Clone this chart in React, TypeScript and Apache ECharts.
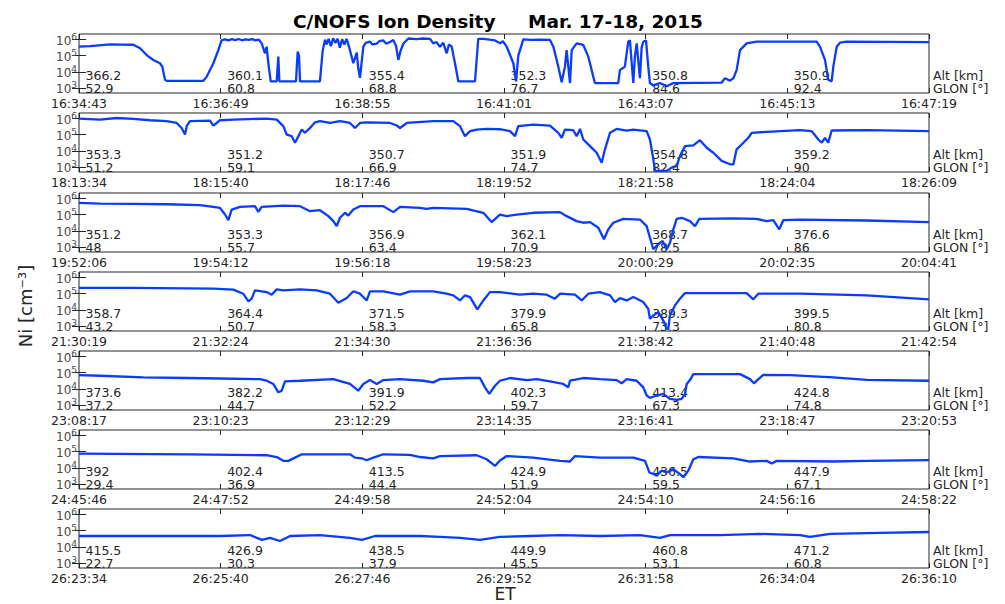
import React, { useEffect, useRef } from 'react';
import * as echarts from 'echarts';

// ---- data (x: seconds since panel start, y: log10 Ni [cm^-3]) ----
const TICK_STEP = 126;
const SPAN = 756;

const times1 = ['16:34:43', '16:36:49', '16:38:55', '16:41:01', '16:43:07', '16:45:13', '16:47:19'];
const times2 = ['18:13:34', '18:15:40', '18:17:46', '18:19:52', '18:21:58', '18:24:04', '18:26:09'];
const times3 = ['19:52:06', '19:54:12', '19:56:18', '19:58:23', '20:00:29', '20:02:35', '20:04:41'];
const times4 = ['21:30:19', '21:32:24', '21:34:30', '21:36:36', '21:38:42', '21:40:48', '21:42:54'];
const times5 = ['23:08:17', '23:10:23', '23:12:29', '23:14:35', '23:16:41', '23:18:47', '23:20:53'];
const times6 = ['24:45:46', '24:47:52', '24:49:58', '24:52:04', '24:54:10', '24:56:16', '24:58:22'];
const times7 = ['26:23:34', '26:25:40', '26:27:46', '26:29:52', '26:31:58', '26:34:04', '26:36:10'];

const alt1 = [366.2, 360.1, 355.4, 352.3, 350.8, 350.9];
const alt2 = [353.3, 351.2, 350.7, 351.9, 354.8, 359.2];
const alt3 = [351.2, 353.3, 356.9, 362.1, 368.7, 376.6];
const alt4 = [358.7, 364.4, 371.5, 379.9, 389.3, 399.5];
const alt5 = [373.6, 382.2, 391.9, 402.3, 413.4, 424.8];
const alt6 = [392, 402.4, 413.5, 424.9, 436.5, 447.9];
const alt7 = [415.5, 426.9, 438.5, 449.9, 460.8, 471.2];

const glon1 = [52.9, 60.8, 68.8, 76.7, 84.6, 92.4];
const glon2 = [51.2, 59.1, 66.9, 74.7, 82.4, 90];
const glon3 = [48, 55.7, 63.4, 70.9, 78.5, 86];
const glon4 = [43.2, 50.7, 58.3, 65.8, 73.3, 80.8];
const glon5 = [37.2, 44.7, 52.2, 59.7, 67.3, 74.8];
const glon6 = [29.4, 36.9, 44.4, 51.9, 59.5, 67.1];
const glon7 = [22.7, 30.3, 37.9, 45.5, 53.1, 60.8];

const ni1 = [[0,5.56],[10,5.6],[20,5.66],[27.6,5.70],[38,5.69],[48.3,5.68],[54.3,5.46],[60.2,5.04],[66.1,4.73],[72,4.53],[74.1,4.32],[76.5,3.5],[78,3.44],[110.6,3.44],[113.6,3.70],[119.5,4.53],[123.9,5.35],[126.9,5.97],[130,6.02],[133,5.95],[136,6.03],[139,5.97],[142,6.04],[145,5.96],[148,6.02],[151,5.98],[154,6.03],[157,5.95],[160,6.0],[162.5,5.77],[165.4,5.15],[166.9,5.56],[168.4,4.53],[170.5,3.4],[175.8,3.4],[177.3,4.94],[178.2,3.4],[193,3.4],[194.5,5.25],[195.7,5.0],[196.6,3.4],[214.3,3.4],[216.7,5.3],[218.8,6.0],[220,5.7],[222,6.05],[224,5.6],[226,6.08],[228,5.8],[230,6.05],[232,5.5],[234,6.02],[236,5.7],[238,6.05],[240,5.6],[244,4.53],[247,5.2],[248.4,4.2],[249.9,3.62],[251.4,4.6],[252.9,5.56],[255,5.8],[258.8,5.87],[261,5.7],[264.8,5.75],[267,5.9],[270.7,5.95],[273,5.75],[276.6,5.85],[279.6,5.97],[282,5.6],[284,4.74],[286,5.3],[288.5,5.76],[292.9,6.07],[300,6.03],[306,6.07],[312.2,6.05],[315.1,5.77],[318,5.85],[321,5.55],[324,5.8],[327,5.15],[329,5.7],[331.5,5.56],[334.4,4.53],[337.4,3.4],[352.2,3.4],[355.1,6.05],[360,6.05],[365,6.0],[370,5.95],[374.4,5.77],[377,5.9],[380.4,5.56],[386.3,4.53],[388.7,3.4],[390.7,5.0],[395.2,6.02],[402,5.98],[410,6.0],[418.9,5.98],[421.9,5.56],[426.3,4.32],[429.3,3.35],[432.2,4.32],[433.7,5.35],[436.7,3.3],[438.2,5.35],[442.6,5.77],[448.5,5.67],[453,4.94],[457.4,3.7],[458.9,3.3],[479.6,3.3],[481.1,4.1],[485.5,4.32],[488.5,5.87],[490,5.95],[493,3.3],[494.5,5.0],[496,5.77],[498.9,3.6],[500.4,5.5],[501.9,5.87],[504.3,5.95],[506.3,4.32],[507.8,3.3],[510.8,3.15],[516.7,3.3],[522.7,3.1],[528.6,3.3],[571.6,3.33],[574.5,3.6],[579,3.45],[582,3.6],[584.9,4.1],[587.9,5.35],[593.8,5.77],[602.7,5.87],[656.1,5.87],[659,5.56],[663.5,4.74],[666.4,3.5],[669.4,3.4],[670.9,4.32],[673.9,5.56],[676.8,5.81],[682.8,5.87],[756,5.84]];

const ni2 = [[0,6.0],[18.7,5.94],[33.5,6.04],[48.3,5.98],[63.1,5.9],[78,5.84],[86.9,5.73],[91.3,5.42],[94.3,5.01],[95.8,5.53],[98.7,5.84],[116.5,5.88],[119.5,5.57],[122.5,5.73],[125.4,5.9],[137.2,5.94],[166.9,6.0],[175.8,5.94],[181.7,5.53],[184.7,5.01],[189.2,4.91],[192.1,4.5],[195.1,4.91],[198.1,5.32],[201,5.12],[205.5,5.42],[209.9,5.77],[214.3,5.84],[223.2,5.73],[232.1,5.84],[241,5.73],[245.5,5.42],[249.9,5.73],[255.9,5.77],[276.6,5.73],[282.6,5.57],[285.5,5.42],[291.5,5.73],[315.1,5.84],[332.9,5.84],[338.9,5.53],[343.3,4.91],[347.8,5.22],[353.7,5.32],[362.6,5.36],[374.4,5.34],[383.3,5.22],[387.8,4.91],[390.7,5.53],[404,5.63],[418.9,5.57],[426.3,5.12],[429.3,4.81],[432.2,5.32],[439.6,5.28],[442.6,4.91],[445.6,5.36],[448.5,4.7],[454.5,4.29],[460.4,3.88],[464.9,3.26],[467.8,4.09],[472.3,5.12],[478.2,5.36],[487.1,5.26],[493,5.32],[504.9,5.22],[507.8,4.7],[510.8,3.47],[512.3,2.75],[522.7,2.75],[527.1,2.95],[531.6,3.06],[534.5,3.67],[539,4.29],[546.4,4.33],[552.3,4.66],[558.3,4.19],[564.2,3.88],[571.6,3.37],[579,3.16],[582,3.16],[584.9,4.09],[590.9,4.5],[595.3,4.81],[598.3,5.12],[611.6,5.18],[641.3,5.28],[651.7,5.22],[657.6,4.7],[660.6,4.5],[663.5,4.81],[666.4,4.5],[669.4,5.26],[700.6,5.28],[756,5.22]];

const ni3 = [[0,5.73],[18.7,5.69],[48.3,5.67],[78,5.65],[107.6,5.59],[119.5,5.49],[125.4,5.42],[129.9,5.01],[132.8,4.66],[135.8,5.32],[143.2,5.49],[156.5,5.53],[159.5,5.18],[162.5,5.49],[181.7,5.57],[196.6,5.53],[205.5,5.22],[214.3,5.28],[221.8,4.91],[226.2,4.6],[229.2,4.29],[232.1,4.81],[236.6,5.12],[239.5,4.95],[244,5.32],[249.9,5.53],[270.7,5.53],[279.6,5.16],[285.5,5.49],[303.3,5.42],[309.2,5.36],[315.1,5.42],[344.8,5.36],[359.6,5.12],[367,4.54],[374.4,5.01],[380.4,4.91],[389.3,5.01],[404,5.12],[427.8,5.16],[433.7,4.91],[442.6,4.6],[448.5,4.5],[454.5,4.54],[461.9,4.19],[466.9,3.47],[470.8,4.09],[475.2,4.5],[484.1,4.74],[498.9,4.7],[504.9,4.29],[507.8,3.57],[510.8,2.85],[515.2,3.16],[519.1,3.37],[522.7,2.85],[525.6,3.26],[528.6,4.09],[531.6,4.74],[536,4.81],[543.4,4.6],[547.9,4.29],[551.7,4.74],[582,4.77],[602.7,4.74],[611.6,4.6],[617.5,4.66],[622.8,4.09],[626.4,4.66],[641.3,4.7],[700.6,4.64],[756,4.54]];

const ni4 = [[0,5.36],[48.3,5.36],[119.5,5.31],[137.2,5.25],[146.1,5.0],[150.6,4.52],[153.6,4.69],[156.5,5.21],[166.9,5.1],[171.4,4.94],[175.8,5.27],[181.7,5.21],[196.6,5.27],[211.4,5.21],[223.2,5.0],[230.6,4.44],[238.1,4.73],[244,5.15],[249.9,5.0],[255.9,4.58],[258.8,5.15],[270.7,5.15],[285.5,4.94],[294.4,5.15],[315.1,5.15],[327,5.0],[332.9,4.9],[338.9,4.58],[343.3,4.9],[347.8,4.79],[354.3,4.02],[359.6,4.58],[365.5,5.1],[374.4,5.1],[392.2,4.94],[404,5.0],[415.9,4.94],[423.3,4.69],[427.8,5.0],[441.1,4.94],[447.1,4.58],[453,5.0],[463.4,5.1],[472.3,4.9],[476.7,4.48],[481.1,4.73],[487.1,4.58],[493,4.79],[501.9,4.48],[506.3,4.06],[507.8,3.44],[510.8,3.65],[515.2,3.85],[519.7,3.33],[522.7,2.81],[524.1,2.81],[525.6,3.65],[530.1,4.27],[534.5,4.69],[539,5.04],[593.8,5.04],[599.7,4.65],[604.2,5.0],[641.3,5.0],[700.6,4.9],[756,4.65]];

const ni5 = [[0,4.85],[18.7,4.81],[57.2,4.71],[95.8,4.67],[125.4,4.64],[161,4.6],[166.9,4.5],[172.8,4.3],[177.3,3.78],[180.3,3.88],[183.2,4.46],[196.6,4.5],[226.2,4.6],[241,4.3],[248.4,3.88],[252.9,4.3],[258.8,4.54],[264.8,4.3],[270.7,4.54],[285.5,4.6],[306.2,4.5],[315.1,4.4],[321.1,4.6],[344.8,4.67],[356.6,4.67],[361.1,4.09],[364.9,3.68],[370,4.19],[374.4,4.5],[383.3,4.67],[398.2,4.54],[407.1,4.6],[418.9,4.46],[430.7,4.3],[435.2,4.09],[436.7,4.5],[448.5,4.67],[463.4,4.6],[478.2,4.54],[482.6,4.34],[487.1,4.6],[496,4.5],[501.9,4.09],[504.9,3.58],[507.8,3.43],[513.8,3.58],[519.7,3.68],[525.6,3.37],[531.6,3.31],[536,3.37],[539,3.68],[540.5,4.3],[543.4,4.54],[546.4,4.91],[587.9,4.91],[596.8,4.6],[600.3,4.34],[604.2,4.6],[608.6,4.87],[632.4,4.85],[670.9,4.71],[700.6,4.56],[756,4.5]];

const ni6 = [[0,4.88],[98.7,4.84],[166.9,4.78],[175.8,4.67],[181.7,4.43],[186.2,4.43],[192.1,4.63],[198.1,4.84],[241,4.84],[245.5,4.63],[251.4,4.59],[255.9,4.47],[261.8,4.63],[270.7,4.84],[294.4,4.8],[303.3,4.67],[315.1,4.59],[321.1,4.73],[353.7,4.78],[362.6,4.53],[370,4.12],[374.4,4.45],[380.4,4.73],[404,4.63],[427.8,4.43],[436.7,4.39],[441.1,4.73],[463.4,4.63],[493,4.63],[503.4,4.43],[507.3,3.71],[510.8,3.61],[513.8,3.51],[518.2,3.82],[522.7,3.71],[528.6,3.92],[534.5,3.61],[537.5,3.41],[541.9,3.82],[546.4,4.53],[550.8,4.67],[582,4.59],[596.8,4.39],[611.6,4.43],[616.1,4.27],[620.5,4.43],[670.9,4.39],[700.6,4.43],[756,4.47]];

const ni7 = [[0,4.67],[63.1,4.67],[125.4,4.67],[152.1,4.73],[162.8,4.43],[169.9,4.55],[178.8,4.36],[187.7,4.67],[214.3,4.73],[241,4.55],[251.7,4.43],[263.3,4.67],[303.3,4.67],[321.1,4.61],[338.9,4.55],[356.6,4.43],[374.4,4.61],[401.1,4.67],[427.8,4.73],[463.4,4.67],[499,4.73],[516.7,4.55],[525.6,4.73],[570.1,4.73],[605.7,4.8],[641.3,4.73],[650.2,4.61],[668,4.8],[712.4,4.86],[756,4.92]];

const yTickExps = [3, 4, 5, 6];
const ALT_LEVEL = 3.75;
const GLON_LEVEL = 2.93;

// ---- layout / style ----
const FONT = 'DejaVu Sans';
const TEXT = '#262626';
const BLUE = '#0a3cff';
const TOPS = [34, 113, 193, 272, 351, 430, 509];
const PANEL_H = 59;
const LEFT = 79;
const WIDTH = 850;
const Y_MIN = 2.68;
const Y_MAX = 6.35;

const panels = [
  { times: times1, alt: alt1, glon: glon1, ni: ni1 },
  { times: times2, alt: alt2, glon: glon2, ni: ni2 },
  { times: times3, alt: alt3, glon: glon3, ni: ni3 },
  { times: times4, alt: alt4, glon: glon4, ni: ni4 },
  { times: times5, alt: alt5, glon: glon5, ni: ni5 },
  { times: times6, alt: alt6, glon: glon6, ni: ni6 },
  { times: times7, alt: alt7, glon: glon7, ni: ni7 },
];

function buildOption() {
  const grid: any[] = [];
  const xAxis: any[] = [];
  const yAxis: any[] = [];
  const series: any[] = [];

  panels.forEach((p, i) => {
    grid.push({
      left: LEFT, top: TOPS[i], width: WIDTH, height: PANEL_H,
      show: true, borderColor: TEXT, borderWidth: 1, backgroundColor: 'transparent',
    });
    xAxis.push({
      gridIndex: i, type: 'value', min: 0, max: SPAN, interval: TICK_STEP, position: 'bottom',
      axisLine: { show: false },
      axisTick: { show: true, inside: true, length: 5, lineStyle: { color: TEXT } },
      axisLabel: {
        show: true, margin: 4, fontSize: 12.5, color: TEXT, fontFamily: FONT,
        showMinLabel: true, showMaxLabel: true, hideOverlap: false,
        formatter: (v: number) => p.times[Math.round(v / TICK_STEP)] ?? '',
      },
      splitLine: { show: false },
    });
    xAxis.push({
      gridIndex: i, type: 'value', min: 0, max: SPAN, interval: TICK_STEP, position: 'top',
      axisLine: { show: false },
      axisTick: { show: true, inside: true, length: 5, lineStyle: { color: TEXT } },
      axisLabel: { show: false },
      splitLine: { show: false },
    });
    yAxis.push({
      gridIndex: i, type: 'value', min: Y_MIN, max: Y_MAX, position: 'left',
      axisLine: { show: false },
      axisTick: { show: true, inside: true, length: 7, customValues: yTickExps, lineStyle: { color: TEXT } },
      axisLabel: {
        show: true, customValues: yTickExps, margin: 2, color: '#4a4a4a', fontFamily: FONT, hideOverlap: false,
        formatter: (v: number) => `{a|10}{b|${Math.round(v)}}`,
        rich: {
          a: { fontSize: 12, lineHeight: 14, verticalAlign: 'bottom', color: '#4a4a4a', fontFamily: FONT },
          b: { fontSize: 9, lineHeight: 8, verticalAlign: 'top', color: '#4a4a4a', fontFamily: FONT },
        },
      },
      splitLine: { show: false },
    });
    yAxis.push({
      gridIndex: i, type: 'value', min: Y_MIN, max: Y_MAX, position: 'right',
      axisLine: { show: false },
      axisTick: { show: true, inside: true, length: 7, customValues: yTickExps, lineStyle: { color: TEXT } },
      axisLabel: {
        show: true, customValues: [GLON_LEVEL, ALT_LEVEL], margin: 4, fontSize: 12.5, lineHeight: 13,
        color: TEXT, fontFamily: FONT, hideOverlap: false, showMinLabel: true, showMaxLabel: true,
        formatter: (v: number) => (v < 3.3 ? 'GLON [°]' : 'Alt [km]'),
      },
      splitLine: { show: false },
    });

    const labelData = [
      ...p.alt.map((a, k) => [k * TICK_STEP, ALT_LEVEL, a]),
      ...p.glon.map((g, k) => [k * TICK_STEP, GLON_LEVEL, g]),
    ];
    series.push({
      type: 'scatter', xAxisIndex: 2 * i, yAxisIndex: 2 * i, silent: true,
      symbolSize: 1, itemStyle: { color: 'rgba(0,0,0,0)' },
      data: labelData,
      label: {
        show: true, position: 'right', distance: 6, opacity: 1,
        formatter: (q: any) => String(q.value[2]),
        fontSize: 12.5, lineHeight: 13, color: TEXT, fontFamily: FONT,
      },
    });
    series.push({
      type: 'line', xAxisIndex: 2 * i, yAxisIndex: 2 * i, silent: true,
      data: p.ni, showSymbol: false, symbol: 'none',
      lineStyle: { color: BLUE, width: 2.3 },
    });
  });

  return {
    animation: false,
    backgroundColor: '#ffffff',
    textStyle: { fontFamily: FONT },
    grid, xAxis, yAxis, series,
    graphic: [
      {
        type: 'text', left: 293, top: 12, silent: true,
        style: { text: 'C/NOFS Ion Density', font: `bold 18.5px "${FONT}"`, fill: '#000' },
      },
      {
        type: 'text', left: 528, top: 12, silent: true,
        style: { text: 'Mar. 17-18, 2015', font: `bold 18.5px "${FONT}"`, fill: '#000' },
      },
      {
        type: 'text', x: 25, y: 306, rotation: Math.PI / 2, silent: true,
        style: { text: 'Ni [cm⁻³]', font: `18px "${FONT}"`, fill: TEXT, align: 'center', verticalAlign: 'middle' },
      },
      {
        type: 'text', x: 505, y: 594, silent: true,
        style: { text: 'ET', font: `17px "${FONT}"`, lineHeight: 12, fill: TEXT, align: 'center', verticalAlign: 'middle' },
      },
    ],
  };
}

export default function App() {
  const ref = useRef<HTMLDivElement>(null);
  useEffect(() => {
    if (!ref.current) return;
    const chart = echarts.init(ref.current, undefined, { renderer: 'svg' });
    chart.setOption(buildOption() as any);
    return () => chart.dispose();
  }, []);
  return (
    <div
      ref={ref}
      style={{ position: 'fixed', left: 0, top: 0, width: 1005, height: 604, background: '#fff' }}
    />
  );
}
